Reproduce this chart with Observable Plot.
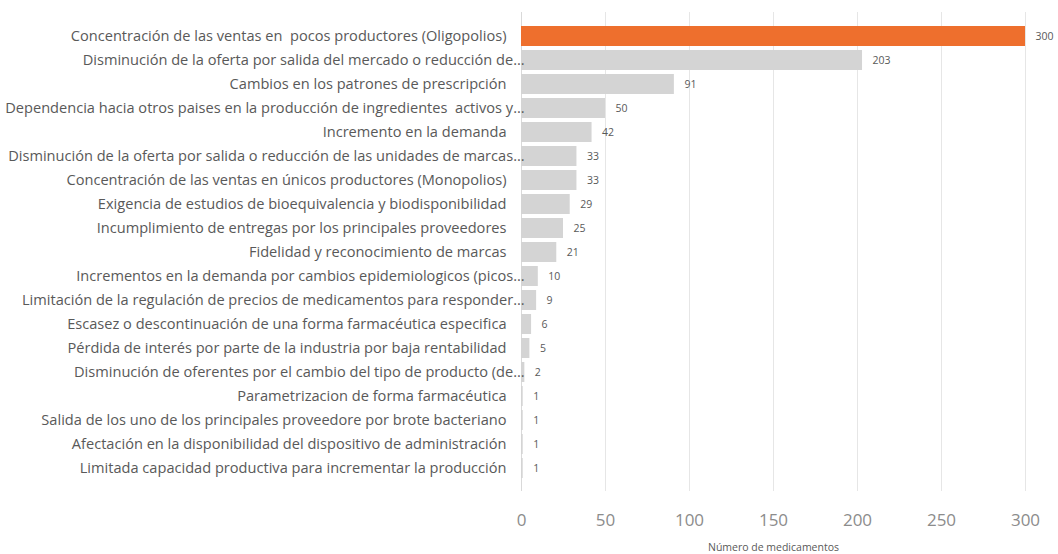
<!DOCTYPE html>
<html><head><meta charset="utf-8">
<script src="https://cdn.jsdelivr.net/npm/d3@7"></script>
<script src="https://cdn.jsdelivr.net/npm/@observablehq/plot@0.6"></script>
<style>body{margin:0;background:#fff;} svg{display:block;}</style>
</head><body><div id="chart"></div>
<script>
const categories = [
  "Concentración de las ventas en  pocos productores (Oligopolios)",
  "Disminución de la oferta por salida del mercado o reducción de…",
  "Cambios en los patrones de prescripción",
  "Dependencia hacia otros paises en la producción de ingredientes  activos y…",
  "Incremento en la demanda",
  "Disminución de la oferta por salida o reducción de las unidades de marcas…",
  "Concentración de las ventas en únicos productores (Monopolios)",
  "Exigencia de estudios de bioequivalencia y biodisponibilidad",
  "Incumplimiento de entregas por los principales proveedores",
  "Fidelidad y reconocimiento de marcas",
  "Incrementos en la demanda por cambios epidemiologicos (picos…",
  "Limitación de la regulación de precios de medicamentos para responder…",
  "Escasez o descontinuación de una forma farmacéutica especifica",
  "Pérdida de interés por parte de la industria por baja rentabilidad",
  "Disminución de oferentes por el cambio del tipo de producto (de…",
  "Parametrizacion de forma farmacéutica",
  "Salida de los uno de los principales proveedore por brote bacteriano",
  "Afectación en la disponibilidad del dispositivo de administración",
  "Limitada capacidad productiva para incrementar la producción"
];
const values = [300,203,91,50,42,33,33,29,25,21,10,9,6,5,2,1,1,1,1];
const xTicks = [0,50,100,150,200,250,300];
const xLabel = "Número de medicamentos";

const data = categories.map((c,i)=>({cat:c, v:values[i], top:i===0, cut:c.endsWith("…")}));

const chart = Plot.plot({
  width: 1058,
  height: 554,
  marginLeft: 521,
  marginRight: 33,
  marginTop: 12,
  marginBottom: 63,
  style: {fontFamily: "'Open Sans', sans-serif", color: "#595959", background: "#fff"},
  x: {domain: [0, 300], ticks: xTicks},
  y: {domain: categories, padding: 0.17, axis: null},
  marks: [
    Plot.gridX(xTicks.slice(1), {stroke: "#e6e6e6", strokeOpacity: 1}),
    Plot.ruleX([0], {stroke: "#d9d9d9"}),
    Plot.barX(data, {y: "cat", x: "v", fill: d => d.top ? "#ee6f2d" : "#d4d4d4"}),
    Plot.text(data, {y: "cat", x: "v", text: d => String(d.v), dx: 10, textAnchor: "start", fontSize: 10.5, fill: "#595959"}),
    Plot.text(data.filter(d => !d.cut), {y: "cat", x: 0, text: "cat", dx: -15, textAnchor: "end", fontSize: 14.6, fill: "#595959"}),
    Plot.text(data.filter(d => d.cut), {y: "cat", x: 0, text: "cat", dx: 3, textAnchor: "end", fontSize: 14.6, fill: "#595959"}),
    Plot.axisX({ticks: xTicks, tickSize: 0, tickPadding: 22, fontSize: 17, fill: "#8c8c8c", label: null}),
    Plot.text([xLabel], {frameAnchor: "bottom", dy: 59, fontSize: 10.5, fill: "#595959"})
  ]
});
document.getElementById("chart").appendChild(chart);
</script>
</body></html>
